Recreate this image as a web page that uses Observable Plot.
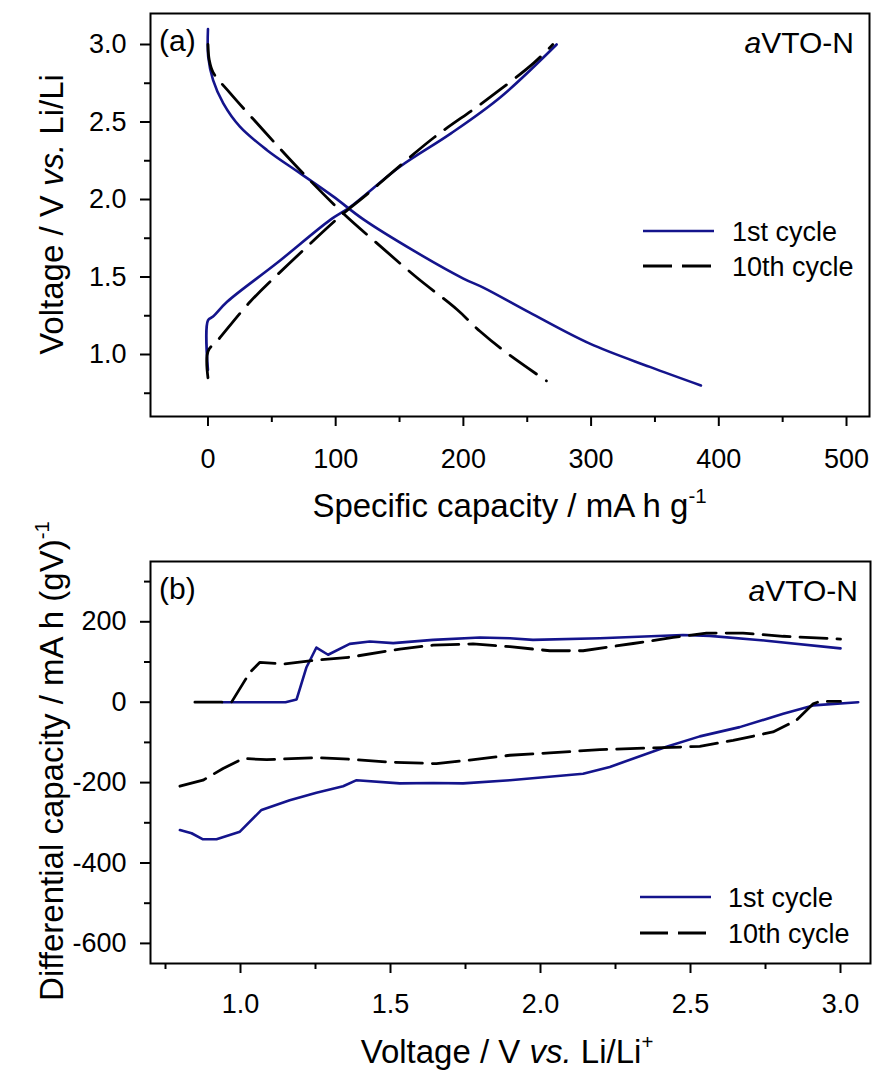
<!DOCTYPE html>
<html><head><meta charset="utf-8">
<script src="https://cdn.jsdelivr.net/npm/d3@7"></script>
<script src="https://cdn.jsdelivr.net/npm/@observablehq/plot@0.6"></script>
<style>
html,body{margin:0;padding:0;background:#fff;}
#chart svg{display:block;}
</style></head><body><div id="chart"></div>
<script>
// ---------- Panel (a): voltage profiles [capacity mA h g-1, voltage V] ----------
const a1stDischarge = [[0,3.1],[0.2,2.92],[4,2.77],[12,2.62],[25,2.47],[46,2.32],[72,2.17],[98,2.02],[122,1.87],[161,1.67],[200,1.49],[216,1.43],[252,1.27],[299,1.07],[346,0.92],[386,0.80]];
const a1stCharge = [[0,0.9],[0,1.22],[4,1.245],[15,1.34],[54,1.59],[96,1.87],[111,1.95],[150,2.21],[190,2.425],[229,2.66],[273,3.0]];
const a10thDischarge = [[0,3.0],[1,2.9],[4,2.82],[17,2.69],[43,2.45],[72,2.19],[106,1.91],[132,1.72],[163,1.50],[195,1.29],[213,1.15],[234,1.01],[265,0.83]];
const a10thCharge = [[0,0.85],[0,1.02],[8,1.095],[33,1.34],[64,1.59],[106,1.91],[124,2.03],[145,2.18],[177,2.40],[216,2.63],[255,2.88],[270,3.0]];
const aXTicksMajor = [0,100,200,300,400,500];
const aXTicksMinor = [50,150,250,350,450];
const aYTicksMajor = [1.0,1.5,2.0,2.5,3.0];
const aYTicksMinor = [0.75,1.25,1.75,2.25,2.75];

// ---------- Panel (b): differential capacity [voltage V, dQ/dV] ----------
const b1stUpper = [[0.94,0],[1.15,0],[1.187,7],[1.22,87],[1.253,136],[1.292,118],[1.364,145],[1.431,151],[1.509,147],[1.642,155],[1.798,161],[1.898,159],[1.975,155],[2.198,159],[2.475,167],[2.564,165],[2.753,153],[3.0,134]];
const b10thUpper = [[0.848,0],[0.97,0],[1.031,74],[1.064,99],[1.142,95],[1.231,103],[1.364,112],[1.531,132],[1.642,142],[1.775,145],[1.898,138],[2.031,128],[2.142,128],[2.309,146],[2.442,161],[2.553,172],[2.675,172],[2.809,164],[3.0,157]];
const b1stLower = [[0.798,-318],[0.837,-326],[0.875,-341],[0.92,-341],[0.998,-322],[1.07,-268],[1.164,-244],[1.253,-225],[1.342,-209],[1.387,-194],[1.531,-202],[1.642,-201],[1.742,-202],[1.898,-194],[2.142,-178],[2.231,-161],[2.42,-111],[2.531,-85],[2.664,-62],[2.809,-29],[2.909,-8],[3.059,0]];
const b10thLower = [[0.798,-209],[0.875,-194],[0.942,-165],[1.009,-140],[1.087,-143],[1.253,-138],[1.364,-142],[1.498,-149],[1.653,-153],[1.764,-144],[1.898,-132],[2.031,-126],[2.198,-118],[2.364,-114],[2.531,-110],[2.642,-95],[2.775,-74],[2.853,-45],[2.909,-4],[2.931,2],[3.0,2]];
const bXTicksMajor = [1.0,1.5,2.0,2.5,3.0];
const bXTicksMinor = [0.75,1.25,1.75,2.25,2.75];
const bYTicksMajor = [-600,-400,-200,0,200];
const bYTicksMinor = [-500,-300,-100,100,300];

const seriesNames = ["1st cycle", "10th cycle"];
const sampleName = "VTO-N";

const FONT = "'Liberation Sans', Arial, Helvetica, sans-serif";
const BLUE = "#14148c";
const px = d => d[0], py = d => d[1];

function axes(xMaj, xMin, yMaj, yMin, fx, fy, padX) {
  return [
    Plot.axisX({ticks: xMaj, tickSize: 10, tickPadding: padX, tickFormat: fx, label: null, strokeWidth: 2, fontSize: 27}),
    Plot.axisX({ticks: xMin, tickSize: 6, tickFormat: () => "", label: null, strokeWidth: 2}),
    Plot.axisY({ticks: yMaj, tickSize: 10, tickPadding: 14, tickFormat: fy, label: null, strokeWidth: 2, fontSize: 27}),
    Plot.axisY({ticks: yMin, tickSize: 6, tickFormat: () => "", label: null, strokeWidth: 2})
  ];
}

function addText(svg, {x, y, rotate = 0, anchor = "start", size, parts}) {
  const t = d3.select(svg).append("text")
    .attr("transform", `translate(${x},${y})` + (rotate ? ` rotate(${rotate})` : ""))
    .attr("text-anchor", anchor)
    .attr("font-family", FONT)
    .attr("font-size", size)
    .attr("fill", "black");
  for (const p of parts) {
    const ts = t.append("tspan").text(p.t);
    if (p.italic) ts.attr("font-style", "italic");
    if (p.sup) ts.attr("dy", -size * 0.42).attr("font-size", size * 0.62);
  }
  return t;
}

function addLegend(svg, x1, x2, xt, y1, y2, dash) {
  const g = d3.select(svg).append("g");
  g.append("line").attr("x1", x1).attr("x2", x2).attr("y1", y1).attr("y2", y1)
    .attr("stroke", BLUE).attr("stroke-width", 2.6);
  g.append("line").attr("x1", x1).attr("x2", x2).attr("y1", y2).attr("y2", y2)
    .attr("stroke", "black").attr("stroke-width", 2.8).attr("stroke-dasharray", dash);
  addText(svg, {x: xt, y: y1 + 10, size: 27, parts: [{t: seriesNames[0]}]});
  addText(svg, {x: xt, y: y2 + 10, size: 27, parts: [{t: seriesNames[1]}]});
}

const styleObj = {fontFamily: FONT, fontSize: "27px", color: "black", background: "white", overflow: "visible"};

// Panel (a)
const plotA = Plot.plot({
  width: 874, height: 540,
  marginTop: 13, marginBottom: 124, marginLeft: 150, marginRight: 5,
  x: {domain: [-45, 518]},
  y: {domain: [0.6, 3.2]},
  style: styleObj,
  marks: [
    ...axes(aXTicksMajor, aXTicksMinor, aYTicksMajor, aYTicksMinor, d3.format("d"), d3.format(".1f"), 22),
    Plot.line(a1stDischarge, {x: px, y: py, stroke: BLUE, strokeWidth: 2.6, curve: "catmull-rom"}),
    Plot.line(a1stCharge, {x: px, y: py, stroke: BLUE, strokeWidth: 2.6, curve: "catmull-rom"}),
    Plot.line(a10thDischarge, {x: px, y: py, stroke: "black", strokeWidth: 2.8, strokeDasharray: "32,12", curve: "catmull-rom"}),
    Plot.line(a10thCharge, {x: px, y: py, stroke: "black", strokeWidth: 2.8, strokeDasharray: "32,12", curve: "catmull-rom"}),
    Plot.frame({strokeWidth: 2})
  ]
});

// Panel (b)
const plotB = Plot.plot({
  width: 874, height: 533,
  marginTop: 21, marginBottom: 110, marginLeft: 150, marginRight: 4,
  x: {domain: [0.7, 3.1]},
  y: {domain: [-650, 350]},
  style: styleObj,
  marks: [
    ...axes(bXTicksMajor, bXTicksMinor, bYTicksMajor, bYTicksMinor, d3.format(".1f"), d => String(d), 20),
    Plot.line(b1stUpper, {x: px, y: py, stroke: BLUE, strokeWidth: 2.6}),
    Plot.line(b1stLower, {x: px, y: py, stroke: BLUE, strokeWidth: 2.6}),
    Plot.line(b10thUpper, {x: px, y: py, stroke: "black", strokeWidth: 2.8, strokeDasharray: "27,10"}),
    Plot.line(b10thLower, {x: px, y: py, stroke: "black", strokeWidth: 2.8, strokeDasharray: "27,10"}),
    Plot.frame({strokeWidth: 2})
  ]
});

// Annotations panel (a)
addText(plotA, {x: 159, y: 51, size: 30, parts: [{t: "(a)"}]});
addText(plotA, {x: 854, y: 53, size: 30, anchor: "end", parts: [{t: "a", italic: true}, {t: sampleName}]});
addLegend(plotA, 643, 714, 732, 231, 266, "29,10");
addText(plotA, {x: 509.5, y: 517, size: 33, anchor: "middle", parts: [{t: "Specific capacity / mA h g"}, {t: "-1", sup: true}]});
addText(plotA, {x: 63, y: 214.5, rotate: -90, size: 33, anchor: "middle", parts: [{t: "Voltage / V "}, {t: "vs.", italic: true}, {t: " Li/Li"}]});

// Annotations panel (b)
addText(plotB, {x: 159, y: 59, size: 30, parts: [{t: "(b)"}]});
addText(plotB, {x: 858, y: 61, size: 30, anchor: "end", parts: [{t: "a", italic: true}, {t: sampleName}]});
addLegend(plotB, 640, 711, 728, 357, 393, "28,10");
addText(plotB, {x: 507, y: 523, size: 33, anchor: "middle", parts: [{t: "Voltage / V "}, {t: "vs.", italic: true}, {t: " Li/Li"}, {t: "+", sup: true}]});
addText(plotB, {x: 63, y: 221, rotate: -90, size: 33, anchor: "middle", parts: [{t: "Differential capacity / mA h (gV)"}, {t: "-1", sup: true}]});

document.getElementById("chart").append(plotA, plotB);
</script></body></html>
